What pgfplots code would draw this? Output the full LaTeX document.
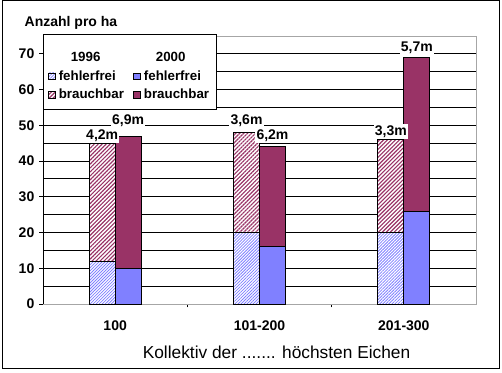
\documentclass[border=0pt]{standalone}
\usepackage{pgfplots}
\pgfplotsset{compat=1.18}
\usepackage{fontspec}
\setmainfont{Liberation Sans}
\usetikzlibrary{patterns.meta}
\definecolor{ffblue}{HTML}{8080FF}
\definecolor{bbred}{HTML}{993366}
\newcommand{\bfs}{\fontsize{10.5}{12}\selectfont\bfseries}
\tikzset{
 pff/.style={pattern={Lines[angle=45,distance=1.6pt,line width=0.6pt]}, pattern color=ffblue},
 pbb/.style={pattern={Lines[angle=45,distance=2.1pt,line width=0.85pt]}, pattern color=bbred},
 lbl/.style={font=\bfs, fill=white, inner sep=1pt},
}
\begin{document}
\begin{tikzpicture}
\useasboundingbox (0,0) rectangle (376.5pt,-279.75pt);
\draw[line width=0.75pt] (1.5pt,-0.5pt) rectangle (374.3pt,-276.6pt);
\node[anchor=west, font=\bfs] at (15pt,-17.25pt) {Anzahl pro ha};
\node[font=\fontsize{13}{15}\selectfont] at (207.4pt,-264pt) {Kollektiv der ....... höchsten Eichen};
\begin{axis}[
 at={(32.25pt,-228pt)}, anchor=south west,
 scale only axis, width=324.75pt, height=201pt,
 xmin=-0.5, xmax=2.5, ymin=0, ymax=75,
 xtick={0,1,2}, xticklabels={100,101-200,201-300},
 minor xtick={0.5,1.5},
 ytick={0,10,...,70}, minor ytick={5,10,...,70},
 yminorgrids,
 minor grid style={black, line width=0.75pt},
 axis line style={draw=gray!70, line width=0.75pt},
 tick align=outside, xtick pos=bottom, ytick pos=left,
 major tick length=3pt, minor tick length=2.5pt,
 every major x tick/.style={draw=none},
 every minor y tick/.style={draw=none},
 tick style={black, line width=0.75pt},
 ticklabel style={font=\bfs},
 /pgf/number format/assume math mode=true,
 xticklabel style={yshift=-6pt},
 legend columns=2,
 legend cell align=left,
 legend style={at={(0,1)}, anchor=north west, yshift=1.5pt, draw=black, line width=0.75pt, fill=white,
   font=\fontsize{10}{12}\selectfont\bfseries, inner xsep=3.5pt, inner ysep=5pt, row sep=1pt,
   /tikz/every even column/.append style={column sep=5pt}},
 legend image code/.code={\fill[white] (0pt,-2.6pt) rectangle (5.2pt,2.6pt); \draw[#1, line width=0.5pt] (0pt,-2.6pt) rectangle (5.2pt,2.6pt);},
]
\addplot[ybar, bar width=0.18, bar shift=0pt, draw=black, line width=0.75pt, fill=white, forget plot] coordinates {(-0.09,45) (0.91,48) (1.91,46)};
\addplot[ybar, bar width=0.18, bar shift=0pt, draw=black, line width=0.75pt, pbb, forget plot] coordinates {(-0.09,45) (0.91,48) (1.91,46)};
\addplot[ybar, bar width=0.18, bar shift=0pt, draw=black, line width=0.75pt, fill=white, forget plot] coordinates {(-0.09,12) (0.91,20) (1.91,20)};
\addplot[ybar, bar width=0.18, bar shift=0pt, draw=black, line width=0.75pt, pff, forget plot] coordinates {(-0.09,12) (0.91,20) (1.91,20)};
\addplot[ybar, bar width=0.18, bar shift=0pt, draw=black, line width=0.75pt, fill=bbred, forget plot] coordinates {(0.09,47) (1.09,44) (2.09,69)};
\addplot[ybar, bar width=0.18, bar shift=0pt, draw=black, line width=0.75pt, fill=ffblue, forget plot] coordinates {(0.09,10) (1.09,16) (2.09,26)};
\addlegendimage{empty legend}\addlegendentry{\rule{0pt}{13.5pt}\hspace{9pt}1996}
\addlegendimage{empty legend}\addlegendentry{\rule{0pt}{13.5pt}\hspace{9pt}2000}
\addlegendimage{pff, draw=black}\addlegendentry{fehlerfrei}
\addlegendimage{fill=ffblue, draw=black}\addlegendentry{fehlerfrei}
\addlegendimage{pbb, draw=black}\addlegendentry{brauchbar}
\addlegendimage{fill=bbred, draw=black}\addlegendentry{brauchbar}
\draw[black, line width=0.75pt] (rel axis cs:0,0) -- (rel axis cs:0,1);
\node[lbl] at (axis cs:-0.09,47) {4,2m};
\node[lbl] at (axis cs:0.09,51.2) {6,9m};
\node[lbl] at (axis cs:0.91,51.3) {3,6m};
\node[lbl] at (axis cs:1.09,47) {6,2m};
\node[lbl] at (axis cs:1.91,48.2) {3,3m};
\node[lbl] at (axis cs:2.09,71.8) {5,7m};
\end{axis}
\end{tikzpicture}
\end{document}
